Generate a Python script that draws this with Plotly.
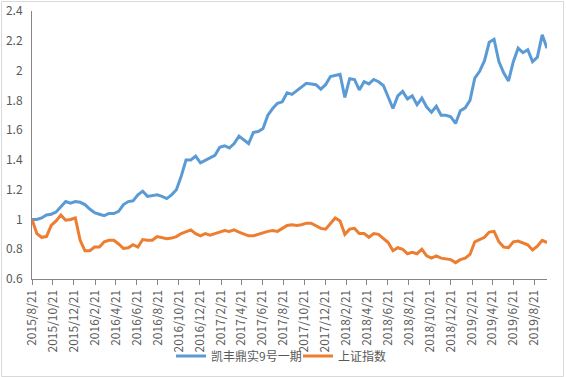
import pandas as pd
import plotly.graph_objects as go

start_date = "2015-08-21"
n_points = 108
dates = pd.date_range(start_date, periods=n_points, freq="14D")

series_names = ["凯丰鼎实9号一期", "上证指数"]

fund_values = [
    1.00, 1.00, 1.01, 1.03, 1.035, 1.05, 1.085, 1.12, 1.11, 1.12,
    1.115, 1.10, 1.07, 1.045, 1.035, 1.025, 1.04, 1.04, 1.055, 1.10,
    1.12, 1.125, 1.165, 1.19, 1.155, 1.16, 1.165, 1.155, 1.14, 1.165,
    1.20, 1.29, 1.40, 1.40, 1.425, 1.38, 1.395, 1.41, 1.43, 1.485,
    1.495, 1.48, 1.51, 1.56, 1.535, 1.51, 1.585, 1.59, 1.61, 1.70,
    1.745, 1.78, 1.79, 1.85, 1.84, 1.865, 1.89, 1.915, 1.91, 1.905,
    1.875, 1.905, 1.96, 1.965, 1.975, 1.82, 1.945, 1.94, 1.87, 1.925,
    1.91, 1.94, 1.925, 1.90, 1.82, 1.745, 1.83, 1.86, 1.81, 1.83,
    1.77, 1.815, 1.755, 1.72, 1.76, 1.70, 1.70, 1.69, 1.645, 1.73,
    1.75, 1.80, 1.95, 1.995, 2.065, 2.19, 2.21, 2.06, 1.985, 1.93,
    2.06, 2.15, 2.12, 2.14, 2.06, 2.09, 2.24, 2.15,
]

index_values = [
    1.00, 0.905, 0.88, 0.885, 0.96, 0.99, 1.03, 0.995, 1.00, 1.01,
    0.86, 0.79, 0.79, 0.815, 0.815, 0.85, 0.86, 0.86, 0.835, 0.805,
    0.81, 0.83, 0.815, 0.865, 0.86, 0.86, 0.885, 0.875, 0.87, 0.875,
    0.885, 0.905, 0.92, 0.93, 0.905, 0.89, 0.905, 0.895, 0.905, 0.915,
    0.925, 0.92, 0.93, 0.915, 0.90, 0.89, 0.89, 0.90, 0.915, 0.92,
    0.925, 0.92, 0.94, 0.96, 0.965, 0.96, 0.965, 0.975, 0.975, 0.96,
    0.94, 0.935, 0.97, 1.01, 0.99, 0.90, 0.935, 0.94, 0.905, 0.905,
    0.88, 0.905, 0.90, 0.87, 0.845, 0.79, 0.81, 0.80, 0.77, 0.78,
    0.77, 0.80, 0.755, 0.74, 0.755, 0.74, 0.735, 0.73, 0.71, 0.73,
    0.74, 0.765, 0.85, 0.865, 0.88, 0.915, 0.92, 0.85, 0.815, 0.81,
    0.85, 0.855, 0.84, 0.83, 0.795, 0.82, 0.86, 0.845,
]

tick_labels = [
    "2015/8/21", "2015/10/21", "2015/12/21",
    "2016/2/21", "2016/4/21", "2016/6/21", "2016/8/21", "2016/10/21", "2016/12/21",
    "2017/2/21", "2017/4/21", "2017/6/21", "2017/8/21", "2017/10/21", "2017/12/21",
    "2018/2/21", "2018/4/21", "2018/6/21", "2018/8/21", "2018/10/21", "2018/12/21",
    "2019/2/21", "2019/4/21", "2019/6/21", "2019/8/21",
]
tick_dates = pd.to_datetime(tick_labels, format="%Y/%m/%d")

series_colors = ["#5B9BD5", "#ED7D31"]

# ---- figure ----
W, H = 566, 377
ml, mr, mt, mb = 32, 19, 11, 98
font_family = "Noto Sans CJK SC, Microsoft YaHei, sans-serif"
text_color = "#595959"

pw, ph = W - ml - mr, H - mt - mb
def px_x(p):
    return (p - ml) / pw
def px_y(p):
    return (H - mb - p) / ph

fig = go.Figure()
for name, vals, col in zip(series_names, [fund_values, index_values], series_colors):
    fig.add_trace(go.Scatter(
        x=dates, y=vals, mode="lines", name=name,
        line=dict(color=col, width=3),
    ))

fig.update_layout(
    width=W, height=H,
    margin=dict(l=ml, r=mr, t=mt, b=mb, autoexpand=False),
    paper_bgcolor="white", plot_bgcolor="white",
    font=dict(family=font_family, size=12, color=text_color),
    showlegend=True,
    legend=dict(
        orientation="h", x=px_x(171), xanchor="left",
        y=px_y(356), yanchor="middle",
        font=dict(size=12, color=text_color),
        itemwidth=30, entrywidth=82,
        bgcolor="rgba(0,0,0,0)",
    ),
)

fig.update_xaxes(
    type="date",
    range=[dates[0], dates[-1]],
    tickvals=tick_dates, ticktext=tick_labels,
    tickangle=-90,
    showgrid=False, zeroline=False,
    showline=True, linecolor="#868686", linewidth=1,
    ticks="outside", ticklen=5, tickcolor="#868686",
    tickfont=dict(size=12, color=text_color),
    automargin=False,
)
fig.update_yaxes(
    range=[0.6, 2.4], dtick=0.2, tick0=0.6,
    showgrid=False, zeroline=False,
    showline=True, linecolor="#868686", linewidth=1,
    ticks="", ticklabelstandoff=6,
    tickfont=dict(size=12, color=text_color),
    automargin=False,
)

# outer chart border (as in the reference)
fig.add_shape(
    type="rect", xref="paper", yref="paper",
    x0=px_x(1.5), x1=px_x(563.5), y0=px_y(376.5), y1=px_y(1.5),
    line=dict(color="#D9D9D9", width=1), fillcolor="rgba(0,0,0,0)",
    layer="below",
)

fig.write_html(
    "out.html",
    config={"displayModeBar": False},
    post_script="document.body.style.margin='0';document.body.style.overflow='hidden';",
)
